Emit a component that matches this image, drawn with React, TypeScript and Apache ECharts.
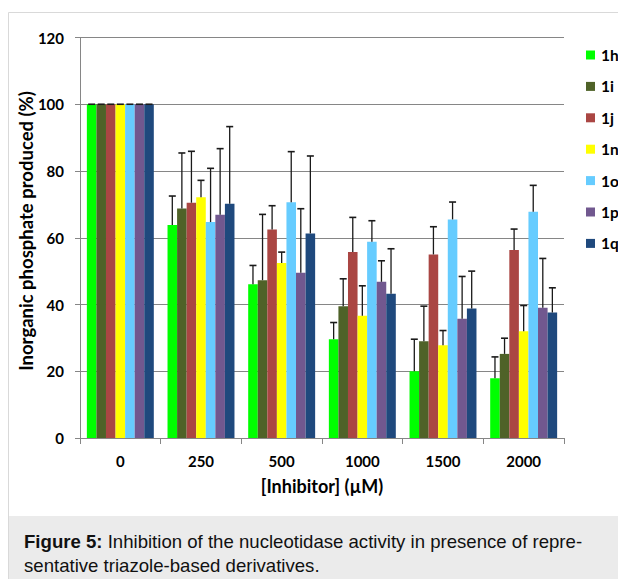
import React, { useEffect, useRef } from "react";
import * as echarts from "echarts";

const categories = ["0", "250", "500", "1000", "1500", "2000"];
const seriesNames = ["1h", "1i", "1j", "1n", "1o", "1p", "1q"];
const colors = ["#00ff00", "#4f6228", "#aa4643", "#ffff00", "#66ccff", "#71588f", "#1f497d"];

const values1h = [100, 63.8, 46.1, 29.6, 20.0, 17.9];
const values1i = [100, 68.8, 47.3, 39.5, 29.0, 25.2];
const values1j = [100, 70.5, 62.5, 55.7, 55.0, 56.3];
const values1n = [100, 72.1, 52.4, 36.6, 27.8, 32.0];
const values1o = [100, 64.7, 70.6, 58.8, 65.5, 67.8];
const values1p = [100, 66.9, 49.5, 46.8, 35.7, 39.0];
const values1q = [100, 70.2, 61.3, 43.2, 38.8, 37.6];

const err1h = [0, 8.7, 5.6, 5.0, 9.6, 6.4];
const err1i = [0, 16.6, 19.7, 8.2, 10.5, 4.7];
const err1j = [0, 15.4, 7.1, 10.4, 8.3, 6.3];
const err1n = [0, 5.1, 3.3, 9.0, 4.4, 7.7];
const err1o = [0, 16.1, 15.2, 6.3, 5.2, 7.9];
const err1p = [0, 19.8, 19.2, 6.3, 12.7, 14.8];
const err1q = [0, 23.1, 23.2, 13.5, 11.2, 7.4];

const yTicks = { min: 0, max: 120, interval: 20 };

const allValues = [values1h, values1i, values1j, values1n, values1o, values1p, values1q];
const allErrors = [err1h, err1i, err1j, err1n, err1o, err1p, err1q];

const CAT_GAP = 0.17;
const LABEL_FONT = "Lato, 'Open Sans', sans-serif";
const CAPTION_FONT = "'Liberation Sans', Arial, sans-serif";

export default function App() {
  const ref = useRef<HTMLDivElement>(null);

  useEffect(() => {
    if (!ref.current) return;
    const chart = echarts.init(ref.current, null, { renderer: "svg" });

    const errData: number[][] = [];
    allValues.forEach((vals, s) => {
      vals.forEach((v, c) => {
        errData.push([c, s, v, allErrors[s][c]]);
      });
    });

    const barSeries = seriesNames.map((name, s) => ({
      name,
      type: "bar",
      data: allValues[s],
      barGap: "0%",
      barCategoryGap: CAT_GAP * 100 + "%",
      itemStyle: { color: colors[s] },
      z: 2,
    }));

    const option: any = {
      animation: false,
      backgroundColor: "#ffffff",
      grid: {
        left: 80,
        right: 54,
        top: 37.5,
        bottom: 141,
        containLabel: false,
        outerBoundsMode: "none",
      },
      legend: {
        orient: "vertical",
        left: 586,
        top: 47,
        padding: 0,
        itemWidth: 9,
        itemHeight: 9,
        itemGap: 15.4,
        icon: "rect",
        data: seriesNames,
        textStyle: {
          fontFamily: LABEL_FONT,
          fontWeight: "bold",
          fontSize: 15.5,
          lineHeight: 15,
          color: "#000",
          padding: [0, 0, 0, 1],
        },
      },
      xAxis: {
        type: "category",
        data: categories,
        name: "[Inhibitor] (µM)",
        nameLocation: "middle",
        nameGap: 39,
        nameTextStyle: {
          fontFamily: LABEL_FONT,
          fontWeight: "bold",
          fontSize: 18,
          color: "#000",
          verticalAlign: "top",
        },
        axisLine: { show: true, lineStyle: { color: "#868686", width: 1 } },
        axisTick: { show: true, length: 6, lineStyle: { color: "#868686" } },
        axisLabel: {
          margin: 15,
          fontFamily: LABEL_FONT,
          fontWeight: "bold",
          fontSize: 15,
          color: "#000",
        },
        splitLine: { show: false },
      },
      yAxis: {
        type: "value",
        min: yTicks.min,
        max: yTicks.max,
        interval: yTicks.interval,
        axisLine: { show: true, lineStyle: { color: "#868686", width: 1 } },
        axisTick: { show: true, length: 5, lineStyle: { color: "#868686" } },
        axisLabel: {
          margin: 16,
          fontFamily: LABEL_FONT,
          fontWeight: "bold",
          fontSize: 15,
          color: "#000",
        },
        splitLine: { show: true, lineStyle: { color: "#868686", width: 1 } },
      },
      series: [
        ...barSeries,
        {
          type: "custom",
          name: "errors",
          z: 5,
          silent: true,
          encode: { x: 0, y: 2 },
          data: errData,
          renderItem: (params: any, api: any) => {
            const cat = api.value(0);
            const s = api.value(1);
            const v = api.value(2);
            const e = api.value(3);
            const base = api.coord([cat, v]);
            const top = api.coord([cat, v + e]);
            const catW = api.size([1, 0])[0];
            const groupW = catW * (1 - CAT_GAP);
            const barW = groupW / seriesNames.length;
            const x = base[0] - groupW / 2 + barW * (s + 0.5);
            const stroke = "#1a1a1a";
            return {
              type: "group",
              children: [
                {
                  type: "line",
                  shape: { x1: x, y1: base[1], x2: x, y2: top[1] },
                  style: { stroke, lineWidth: 1.3 },
                },
                {
                  type: "line",
                  shape: { x1: x - 3.5, y1: top[1], x2: x + 3.5, y2: top[1] },
                  style: { stroke, lineWidth: 1.6 },
                },
              ],
            };
          },
        },
      ],
      graphic: [
        {
          type: "rect",
          silent: true,
          z: -10,
          shape: { x: 8.5, y: 12.5, width: 620, height: 580 },
          style: { fill: "none", stroke: "#d9d9d9", lineWidth: 1 },
        },
        {
          type: "rect",
          silent: true,
          z: -9,
          shape: { x: 9, y: 516, width: 610, height: 64 },
          style: { fill: "#ebebeb" },
        },
        {
          type: "text",
          silent: true,
          x: 26,
          y: 231,
          rotation: Math.PI / 2,
          style: {
            text: "Inorganic phosphate produced (%)",
            fontFamily: LABEL_FONT,
            fontWeight: "bold",
            fontSize: 18.5,
            fill: "#000",
            align: "center",
            verticalAlign: "middle",
          },
        },
        {
          type: "text",
          silent: true,
          x: 24,
          y: 541,
          style: {
            text: "{b|Figure 5:} Inhibition of the nucleotidase activity in presence of repre-",
            fontFamily: CAPTION_FONT,
            fontSize: 18.6,
            fill: "#111",
            verticalAlign: "middle",
            rich: {
              b: { fontFamily: CAPTION_FONT, fontSize: 18.6, fontWeight: "bold", fill: "#111" },
            },
          },
        },
        {
          type: "text",
          silent: true,
          x: 24,
          y: 565,
          style: {
            text: "sentative triazole-based derivatives.",
            fontFamily: CAPTION_FONT,
            fontSize: 18.6,
            fill: "#111",
            verticalAlign: "middle",
          },
        },
      ],
    };

    chart.setOption(option);
    return () => chart.dispose();
  }, []);

  return (
    <div
      ref={ref}
      style={{ position: "absolute", left: 0, top: 0, width: 618, height: 579 }}
    />
  );
}
